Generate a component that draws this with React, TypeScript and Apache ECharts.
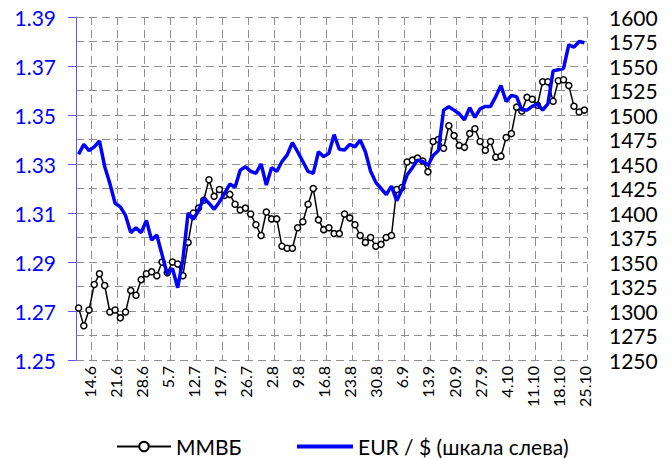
import React, { useEffect, useRef } from "react";
import * as echarts from "echarts";

const dates = [
  "12.6", "13.6", "14.6", "17.6", "18.6", "19.6", "20.6", "21.6", "24.6", "25.6", "26.6", "27.6", "28.6",
  "1.7", "2.7", "3.7", "4.7", "5.7", "8.7", "9.7", "10.7", "11.7", "12.7", "15.7", "16.7", "17.7", "18.7", "19.7",
  "22.7", "23.7", "24.7", "25.7", "26.7", "29.7", "30.7", "31.7",
  "1.8", "2.8", "5.8", "6.8", "7.8", "8.8", "9.8", "12.8", "13.8", "14.8", "15.8", "16.8", "19.8", "20.8", "21.8",
  "22.8", "23.8", "26.8", "27.8", "28.8", "29.8", "30.8",
  "2.9", "3.9", "4.9", "5.9", "6.9", "9.9", "10.9", "11.9", "12.9", "13.9", "16.9", "17.9", "18.9", "19.9", "20.9",
  "23.9", "24.9", "25.9", "26.9", "27.9", "30.9",
  "1.10", "2.10", "3.10", "4.10", "7.10", "8.10", "9.10", "10.10", "11.10", "14.10", "15.10", "16.10", "17.10",
  "18.10", "21.10", "22.10", "23.10", "24.10", "25.10",
];

const mmvb = [
  1303, 1285, 1301, 1327, 1338, 1326, 1299, 1301, 1293, 1299,
  1321, 1316, 1332, 1338, 1340, 1336, 1350, 1339, 1350, 1348,
  1336, 1370, 1400, 1405, 1413, 1434, 1417, 1424, 1418, 1419,
  1409, 1403, 1405, 1399, 1388, 1377, 1401, 1394, 1394, 1366,
  1364, 1364, 1385, 1391, 1409, 1425, 1393, 1383, 1385, 1379,
  1379, 1399, 1395, 1388, 1377, 1370, 1375, 1366, 1368, 1375,
  1377, 1424, 1426, 1452, 1454, 1456, 1453, 1442, 1473, 1475,
  1466, 1489, 1479, 1469, 1467, 1481, 1486, 1473, 1464, 1473,
  1457, 1458, 1477, 1481, 1508, 1504, 1518, 1516, 1510, 1534,
  1534, 1514, 1535, 1536, 1530, 1509, 1503, 1505,
];

const eurUsd = [
  1.334, 1.338, 1.3355, 1.337, 1.3394, 1.329, 1.322, 1.314, 1.3125, 1.309,
  1.302, 1.304, 1.302, 1.307, 1.299, 1.301, 1.293, 1.285, 1.2874, 1.2795,
  1.291, 1.31, 1.3074, 1.311, 1.316, 1.314, 1.3115, 1.3145, 1.318, 1.3218,
  1.3205, 1.3275, 1.3289, 1.327, 1.3262, 1.33, 1.3214, 1.3285, 1.327, 1.331,
  1.3337, 1.3387, 1.335, 1.331, 1.327, 1.3262, 1.335, 1.333, 1.3344, 1.342,
  1.336, 1.3357, 1.338, 1.337, 1.3398, 1.335, 1.327, 1.3225, 1.32, 1.3175,
  1.321, 1.315, 1.3195, 1.3255, 1.3285, 1.3316, 1.331, 1.3295, 1.3335, 1.3355,
  1.352, 1.3534, 1.352, 1.3505, 1.348, 1.353, 1.349, 1.3525, 1.3535, 1.3535,
  1.3575, 1.362, 1.3555, 1.358, 1.3575, 1.352, 1.352, 1.3535, 1.3545, 1.352,
  1.3545, 1.368, 1.3685, 1.369, 1.3786, 1.3777, 1.38, 1.3795,
];

const seriesNames = ["ММВБ", "EUR / $ (шкала слева)"];

const FONT = "Lato, 'Open Sans', sans-serif";
const GRID_COLOR = "#8f8f8f";
const DASH = [8, 5];

export default function App() {
  const ref = useRef<HTMLDivElement>(null);

  useEffect(() => {
    document.body.style.margin = "0";
    if (!ref.current) return;
    const chart = echarts.init(ref.current, null, { renderer: "svg" });
    chart.setOption({
      animation: false,
      backgroundColor: "#ffffff",
      textStyle: { fontFamily: FONT },
      grid: { left: 76, right: 85, top: 17, bottom: 99, containLabel: false },
      legend: [
        {
          data: [seriesNames[0]],
          left: 111,
          top: 431,
          itemWidth: 54,
          itemHeight: 12,
          itemGap: 6,
          textStyle: { fontSize: 21, color: "#000", fontFamily: FONT },
        },
        {
          data: [{ name: seriesNames[1], icon: "rect" }],
          left: 292,
          top: 431,
          itemWidth: 56,
          itemHeight: 4,
          textStyle: { fontSize: 21, color: "#000", fontFamily: FONT },
        },
      ],
      xAxis: {
        type: "category",
        data: dates,
        boundaryGap: true,
        axisLine: { show: false },
        axisTick: { show: false },
        axisLabel: {
          interval: (i: number) => i % 5 === 2,
          rotate: 90,
          fontSize: 16,
          color: "#000",
          margin: 6,
          fontFamily: FONT,
        },
        splitLine: {
          show: true,
          interval: (i: number) => i % 5 === 3,
          lineStyle: { color: GRID_COLOR, type: DASH, width: 1 },
        },
      },
      yAxis: [
        {
          type: "value",
          position: "left",
          min: 1.25,
          max: 1.39,
          interval: 0.02,
          axisLine: { show: true, lineStyle: { color: "#5a5aff", width: 1 } },
          axisTick: { show: true, length: 8, lineStyle: { color: "#5a5aff" } },
          axisLabel: {
            color: "#0000ff",
            fontSize: 21,
            margin: 20,
            fontFamily: FONT,
            formatter: (v: number) => v.toFixed(2),
          },
          splitLine: { show: false },
        },
        {
          type: "value",
          position: "right",
          min: 1250,
          max: 1600,
          interval: 25,
          axisLine: { show: false },
          axisTick: { show: false },
          axisLabel: {
            color: "#000",
            fontSize: 21,
            margin: 22,
            fontFamily: FONT,
            formatter: (v: number) => String(Math.round(v)),
          },
          splitLine: { show: true, lineStyle: { color: GRID_COLOR, type: DASH, width: 1 } },
        },
      ],
      series: [
        {
          name: seriesNames[0],
          type: "line",
          yAxisIndex: 1,
          data: mmvb,
          color: "#000",
          symbol: "circle",
          symbolSize: 6,
          showAllSymbol: true,
          lineStyle: { color: "#000", width: 1.5 },
          itemStyle: { color: "#fff", borderColor: "#000", borderWidth: 1.5 },
          z: 2,
        },
        {
          name: seriesNames[1],
          type: "line",
          yAxisIndex: 0,
          data: eurUsd,
          color: "#0000ff",
          symbol: "none",
          lineStyle: { color: "#0000ff", width: 3.5 },
          itemStyle: { color: "#0000ff" },
          z: 3,
        },
      ],
    });
    return () => chart.dispose();
  }, []);

  return <div ref={ref} style={{ width: 672, height: 459 }} />;
}
